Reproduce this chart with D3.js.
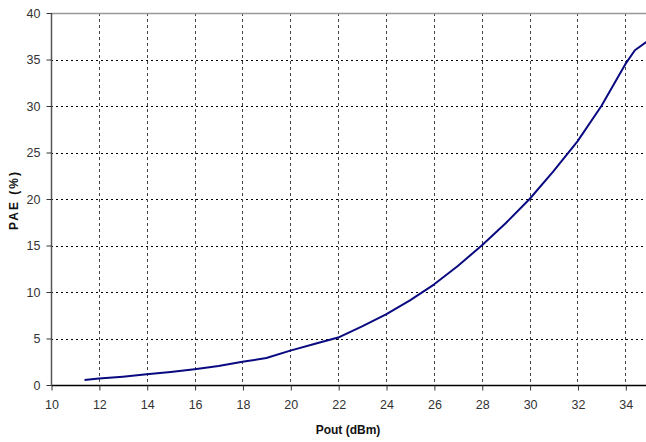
<!DOCTYPE html>
<html>
<head>
<meta charset="utf-8">
<script src="https://cdn.jsdelivr.net/npm/d3@7"></script>
<style>
  body { margin: 0; background: #fff; }
  svg { display: block; font-family: "Liberation Sans", Arial, sans-serif; }
</style>
</head>
<body>
<div id="plot"></div>
<script>
// Pout (dBm) vs PAE (%)
var pout = [11.4, 12, 13, 14, 15, 16, 17, 18, 19, 20, 21, 22, 23, 24, 25, 26, 27, 28, 29, 30, 31, 32, 33, 34, 34.4, 35];
var pae  = [0.55, 0.7, 0.9, 1.15, 1.4, 1.7, 2.05, 2.5, 2.9, 3.7, 4.4, 5.1, 6.3, 7.6, 9.1, 10.8, 12.8, 15.0, 17.4, 20.0, 23.0, 26.2, 30.0, 34.5, 36.0, 37.1];
var xTicks = [10, 12, 14, 16, 18, 20, 22, 24, 26, 28, 30, 32, 34];
var yTicks = [0, 5, 10, 15, 20, 25, 30, 35, 40];

var W = 646, H = 442;
var plotLeft = 51, plotTop = 13, plotBottom = 385;

var x = d3.scaleLinear().domain([10, 35]).range([plotLeft, plotLeft + 25 * 23.93]);
var y = d3.scaleLinear().domain([0, 40]).range([plotBottom, plotTop]);

var svg = d3.select('#plot').append('svg')
    .attr('width', W)
    .attr('height', H);

// grid
svg.append('g').selectAll('line')
    .data(yTicks.filter(function(d) { return d > 0 && d < 40; }))
    .enter().append('line')
    .attr('x1', plotLeft).attr('x2', W)
    .attr('y1', function(d) { return Math.round(y(d)) + 0.5; })
    .attr('y2', function(d) { return Math.round(y(d)) + 0.5; })
    .attr('stroke', '#000')
    .attr('stroke-dasharray', '2,3');

svg.append('g').selectAll('line')
    .data(xTicks.filter(function(d) { return d > 10; }))
    .enter().append('line')
    .attr('y1', plotTop).attr('y2', plotBottom)
    .attr('x1', function(d) { return Math.round(x(d)) + 0.5; })
    .attr('x2', function(d) { return Math.round(x(d)) + 0.5; })
    .attr('stroke', '#444')
    .attr('stroke-dasharray', '3,3');

// top border
svg.append('line')
    .attr('x1', plotLeft).attr('x2', W)
    .attr('y1', plotTop + 0.5).attr('y2', plotTop + 0.5)
    .attr('stroke', '#999').attr('stroke-width', 1.5);

// axes
var xAxis = d3.axisBottom(x).tickValues(xTicks).tickSize(5).tickPadding(10);
var gx = svg.append('g')
    .attr('transform', 'translate(0.5,' + (plotBottom + 0.5) + ')')
    .call(xAxis);
gx.select('.domain').attr('d', 'M' + plotLeft + ',0H' + W).attr('stroke', '#000').attr('stroke-width', 1.5);
gx.selectAll('.tick line').attr('stroke', '#333');

var yAxis = d3.axisLeft(y).tickValues(yTicks).tickSize(5).tickPadding(6);
var gy = svg.append('g')
    .attr('transform', 'translate(' + (plotLeft + 0.5) + ',0)')
    .call(yAxis);
gy.select('.domain').attr('d', 'M0,' + plotTop + 'V' + plotBottom).attr('stroke', '#555').attr('stroke-width', 1.5);
gy.selectAll('.tick line').attr('stroke', '#333');

svg.selectAll('.tick text')
    .style('font-size', '12.5px')
    .style('font-family', '"Liberation Sans", Arial, sans-serif')
    .attr('fill', '#333');

// curve
var data = pout.map(function(d, i) { return [d, pae[i]]; });
var line = d3.line()
    .x(function(d) { return x(d[0]); })
    .y(function(d) { return y(d[1]); });

svg.append('path')
    .datum(data)
    .attr('d', line)
    .attr('fill', 'none')
    .attr('stroke', '#0a0a80')
    .attr('stroke-width', 2)
    .attr('stroke-linejoin', 'round');

// labels
svg.append('text')
    .attr('x', 348).attr('y', 434)
    .attr('text-anchor', 'middle')
    .style('font-size', '12px')
    .style('font-weight', 'bold')
    .attr('fill', '#111')
    .text('Pout (dBm)');

svg.append('text')
    .attr('transform', 'translate(18,200) rotate(-90)')
    .attr('text-anchor', 'middle')
    .style('font-size', '12px')
    .style('font-weight', 'bold')
    .style('letter-spacing', '2px')
    .attr('fill', '#111')
    .text('PAE (%)');
</script>
</body>
</html>
